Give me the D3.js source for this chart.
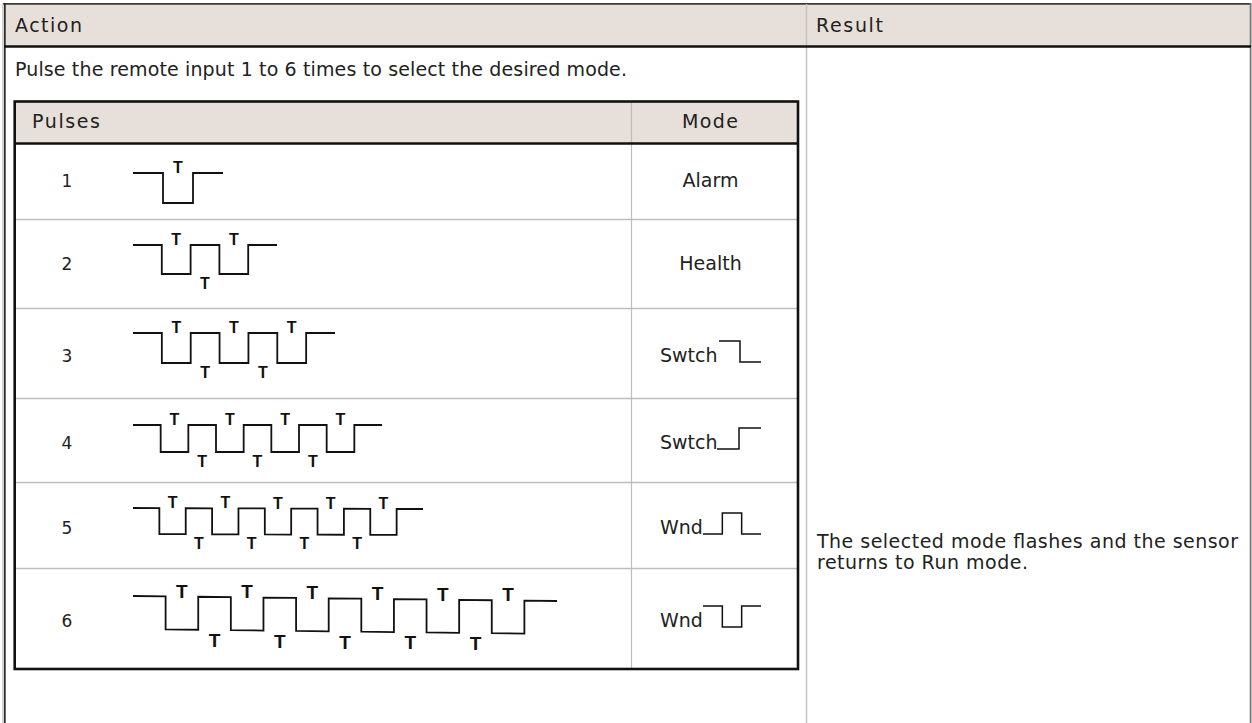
<!DOCTYPE html>
<html>
<head>
<meta charset="utf-8">
<script src="https://cdn.jsdelivr.net/npm/d3@7/dist/d3.min.js"></script>
<style>
  html, body { margin: 0; padding: 0; background: #fff; }
  svg { display: block; }
  text { font-family: "DejaVu Sans", Verdana, sans-serif; fill: #222; }
  .tlab { font-family: "Liberation Sans", Arial, sans-serif; font-weight: bold; fill: #111; }
</style>
</head>
<body>
<svg id="chart" width="1252" height="723"></svg>
<script>
// ---------- DATA ----------
const outerHeaders = ["Action", "Result"];
const innerHeaders = ["Pulses", "Mode"];
const actionText = "Pulse the remote input 1 to 6 times to select the desired mode.";
const resultLines = ["The selected mode flashes and the sensor", "returns to Run mode."];
const pulseCounts = ["1", "2", "3", "4", "5", "6"];
const modeNames = ["Alarm", "Health", "Swtch", "Swtch", "Wnd", "Wnd"];
// signal levels per segment: H = high, L = low
const pulseWaves = ["HLH", "HLHLH", "HLHLHLH", "HLHLHLHLH", "HLHLHLHLHLH", "HLHLHLHLHLHLH"];
const modeWaves = ["", "", "HL", "LH", "LHL", "HLH"];

// ---------- LAYOUT ----------
const W = 1252, H = 723;
const bg = "#e7dfd9";
const rowEdges = [143, 219, 308, 398, 482, 568, 669];
const labelBase = [44, 51, 54, 51, 52, 59];          // baseline offset from row top
const waveHiOff = [30, 26, 25, 27, 26, 28];          // high level offset from row top
const waveAmp = [30, 29, 30, 27, 26, 33];
const waveX0 = 133;
const waveX1 = [223, 277, 335, 382, 423, 557];
const waveTilt = [0, 0, 0, 0, 1, 5];
const tSize = [16, 16, 16, 16, 16, 19];
const modeWaveX0 = [0, 0, 719, 717, 703, 703];
const modeWaveX1 = 761;
const modeWaveHiOff = [0, 0, 33, 30, 31, 38];
const modeWaveAmp = 21;

const svg = d3.select("#chart");

// ---------- OUTER TABLE ----------
svg.append("rect").attr("x", 4).attr("y", 4).attr("width", 1246).attr("height", 42).attr("fill", bg);
svg.append("line").attr("x1", 3).attr("x2", 1251).attr("y1", 3.8).attr("y2", 3.8)
  .attr("stroke", "#3a3a3a").attr("stroke-width", 1.8);
svg.append("line").attr("x1", 2.8).attr("x2", 2.8).attr("y1", 3).attr("y2", H)
  .attr("stroke", "#bdbdbd").attr("stroke-width", 1);
svg.append("line").attr("x1", 4.8).attr("x2", 4.8).attr("y1", 3).attr("y2", H)
  .attr("stroke", "#2a2a2a").attr("stroke-width", 1.8);
svg.append("line").attr("x1", 1250.6).attr("x2", 1250.6).attr("y1", 3).attr("y2", H)
  .attr("stroke", "#777", ).attr("stroke-width", 1.8);
svg.append("line").attr("x1", 806.5).attr("x2", 806.5).attr("y1", 4).attr("y2", H)
  .attr("stroke", "#c4c4c4").attr("stroke-width", 1.5);
svg.append("line").attr("x1", 4).attr("x2", 1251).attr("y1", 46.5).attr("y2", 46.5)
  .attr("stroke", "#111").attr("stroke-width", 2.6);

const headerX = [15, 816];
const headerW = [67, 67];
svg.selectAll("text.oh").data(outerHeaders).join("text").attr("class", "oh")
  .attr("x", (d, i) => headerX[i]).attr("y", 32)
  .attr("font-size", 19)
  .attr("textLength", (d, i) => headerW[i]).attr("lengthAdjust", "spacing")
  .text(d => d);

svg.append("text").attr("x", 15).attr("y", 76).attr("font-size", 19)
  .attr("textLength", 612).attr("lengthAdjust", "spacing").text(actionText);

const resultW = [421, 211];
svg.selectAll("text.res").data(resultLines).join("text").attr("class", "res")
  .attr("x", 817).attr("y", (d, i) => 548 + i * 21)
  .attr("font-size", 19)
  .attr("textLength", (d, i) => resultW[i]).attr("lengthAdjust", "spacing")
  .text(d => d);

// ---------- INNER TABLE ----------
const iL = 14.7, iR = 798, iT = 101.5, iB = 669;
svg.append("rect").attr("x", iL).attr("y", iT).attr("width", iR - iL).attr("height", 143 - iT).attr("fill", bg);
svg.append("line").attr("x1", 631.5).attr("x2", 631.5).attr("y1", iT).attr("y2", iB)
  .attr("stroke", "#bdbdbd").attr("stroke-width", 1.2);
svg.selectAll("line.rowdiv").data(rowEdges.slice(1, -1)).join("line").attr("class", "rowdiv")
  .attr("x1", iL).attr("x2", iR).attr("y1", d => d + 0.5).attr("y2", d => d + 0.5)
  .attr("stroke", "#bdbdbd").attr("stroke-width", 1.4);
svg.append("line").attr("x1", iL).attr("x2", iR).attr("y1", 143.5).attr("y2", 143.5)
  .attr("stroke", "#111").attr("stroke-width", 2.6);
svg.append("rect").attr("x", iL).attr("y", iT).attr("width", iR - iL).attr("height", iB - iT)
  .attr("fill", "none").attr("stroke", "#111").attr("stroke-width", 2.6);

const ihX = [32, 682], ihW = [68, 56];
svg.selectAll("text.ih").data(innerHeaders).join("text").attr("class", "ih")
  .attr("x", (d, i) => ihX[i]).attr("y", 127.5).attr("font-size", 19)
  .attr("textLength", (d, i) => ihW[i]).attr("lengthAdjust", "spacing")
  .text(d => d);

// ---------- ROWS ----------
const rowIdx = d3.range(pulseCounts.length);
const rowTop = i => rowEdges[i];

svg.selectAll("text.num").data(pulseCounts).join("text").attr("class", "num")
  .attr("x", 67).attr("y", (d, i) => rowTop(i) + labelBase[i])
  .attr("text-anchor", "middle").attr("font-size", 17).text(d => d);

svg.selectAll("text.mode").data(modeNames).join("text").attr("class", "mode")
  .attr("x", (d, i) => modeWaves[i] ? 660 : 710.5)
  .attr("y", (d, i) => rowTop(i) + labelBase[i])
  .attr("text-anchor", (d, i) => modeWaves[i] ? "start" : "middle")
  .attr("font-size", 19).text(d => d);

function wavePoints(levels) {
  const pts = [];
  levels.split("").forEach((c, i) => {
    const v = c === "H" ? 1 : 0;
    pts.push({ t: i, v }, { t: i + 1, v });
  });
  return pts;
}

rowIdx.forEach(i => {
  const levels = pulseWaves[i];
  const n = levels.length;
  const hi = rowTop(i) + waveHiOff[i];
  const lo = hi + waveAmp[i];
  const xs = d3.scaleLinear().domain([0, n]).range([waveX0, waveX1[i]]);
  const ys = d3.scaleLinear().domain([0, 1]).range([lo, hi]);
  const tilt = d3.scaleLinear().domain([0, n]).range([0, waveTilt[i]]);
  const line = d3.line().x(d => xs(d.t)).y(d => ys(d.v) + tilt(d.t));
  svg.append("path").datum(wavePoints(levels)).attr("d", line)
    .attr("fill", "none").attr("stroke", "#111").attr("stroke-width", 1.8)
    .attr("stroke-linejoin", "miter");

  const labels = levels.split("").map((c, k) => ({ c, k }))
    .filter(d => d.k > 0 && d.k < n - 1);
  const big = tSize[i] > 16;
  svg.selectAll(null).data(labels).join("text").attr("class", "tlab")
    .attr("x", d => xs(d.k + 0.5))
    .attr("y", d => d.c === "L" ? hi + tilt(d.k + 0.5) + (big ? 1 : 0)
                                  : lo + tilt(d.k + 0.5) + (big ? 17 : 14.5))
    .attr("text-anchor", "middle").attr("font-size", tSize[i]).text("T");

  const mw = modeWaves[i];
  if (mw) {
    const m = mw.length;
    const mx = d3.scaleLinear().domain([0, m]).range([modeWaveX0[i], modeWaveX1]);
    const mhi = rowTop(i) + modeWaveHiOff[i];
    const my = d3.scaleLinear().domain([0, 1]).range([mhi + modeWaveAmp, mhi]);
    const mline = d3.line().x(d => mx(d.t)).y(d => my(d.v));
    svg.append("path").datum(wavePoints(mw)).attr("d", mline)
      .attr("fill", "none").attr("stroke", "#111").attr("stroke-width", 1.5);
  }
});
</script>
</body>
</html>
